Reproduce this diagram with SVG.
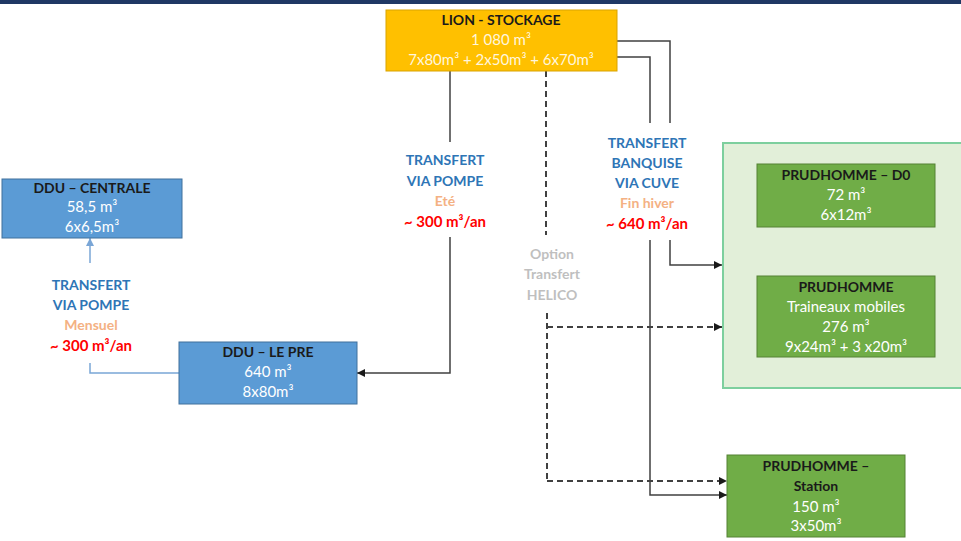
<svg xmlns="http://www.w3.org/2000/svg" width="961" height="541" viewBox="0 0 961 541">
<defs>
<style>
text{font-family:Lato,"Open Sans","Liberation Sans",sans-serif;text-anchor:middle;font-size:15px}
.t{font-weight:bold;fill:#1a1a1a;font-size:14px}
.v{fill:#ffffff}
.vy{fill:#fff6dd}
.b{font-weight:bold;fill:#2e75b6;font-size:14px}
.o{font-weight:bold;fill:#f4b183;font-size:14px}
.r{font-weight:bold;fill:#ff0000;font-size:15px}
.g{font-weight:bold;fill:#bfbfbf;font-size:14px}
.ln{fill:none;stroke:#404040;stroke-width:1.5}
.dl{fill:none;stroke:#404040;stroke-width:2;stroke-dasharray:6 4}
.bl{fill:none;stroke:#7aa6d6;stroke-width:1.5}
</style>
<marker id="ah" viewBox="0 0 10 10" refX="10" refY="5" markerWidth="8" markerHeight="8" markerUnits="userSpaceOnUse" orient="auto"><path d="M0,0 L10,5 L0,10 z" fill="#1a1a1a"/></marker>
<marker id="ahb" viewBox="0 0 10 10" refX="10" refY="5" markerWidth="8" markerHeight="8" markerUnits="userSpaceOnUse" orient="auto"><path d="M0,0 L10,5 L0,10 z" fill="#7aa6d6"/></marker>
</defs>
<rect x="0" y="0" width="961" height="541" fill="#ffffff"/>
<rect x="0" y="0" width="961" height="4" fill="#1f3864"/>

<g id="connectors">
<path class="ln" d="M450,71 V142"/>
<path class="ln" d="M450,237 V373 H357" marker-end="url(#ah)"/>
<path class="dl" d="M546,71 V235"/>
<path class="dl" d="M547,313 V481"/>
<path class="dl" d="M547,327 H722" marker-end="url(#ah)"/>
<path class="dl" d="M547,481 H727" marker-end="url(#ah)"/>
<path class="ln" d="M617,41 H670 V123"/>
<path class="ln" d="M617,57 H650 V123"/>
<path class="ln" d="M670,240 V265 H722" marker-end="url(#ah)"/>
<path class="ln" d="M650,240 V495 H727" marker-end="url(#ah)"/>
<path class="bl" d="M179,373 H90 V363"/>
<path class="bl" d="M90,263 V238" marker-end="url(#ahb)"/>
</g>

<g id="prudhomme-group">
<rect x="723" y="143" width="240" height="245" fill="#e2efd9" stroke="#7dcf9e" stroke-width="2"/>
</g>

<g id="lion">
<rect x="386" y="10" width="231" height="61" fill="#ffc000" stroke="#d9a300" stroke-width="1"/>
<text class="t" x="501" y="25">LION - STOCKAGE</text>
<text class="vy" x="501" y="45">1 080 m³</text>
<text class="vy" x="501" y="65">7x80m³ + 2x50m³ + 6x70m³</text>
</g>

<g id="ddu-centrale">
<rect x="2" y="179" width="180" height="59" fill="#5b9bd5" stroke="#41719c" stroke-width="1"/>
<text class="t" x="92" y="193">DDU – CENTRALE</text>
<text class="v" x="92" y="212">58,5 m³</text>
<text class="v" x="92" y="232">6x6,5m³</text>
</g>

<g id="ddu-le-pre">
<rect x="179" y="342" width="178" height="62" fill="#5b9bd5" stroke="#41719c" stroke-width="1"/>
<text class="t" x="268" y="357">DDU – LE PRE</text>
<text class="v" x="268" y="377">640 m³</text>
<text class="v" x="268" y="397">8x80m³</text>
</g>

<g id="prudhomme-d0">
<rect x="757" y="164" width="178" height="63" fill="#70ad47" stroke="#548235" stroke-width="1"/>
<text class="t" x="846" y="180">PRUDHOMME – D0</text>
<text class="v" x="846" y="200">72 m³</text>
<text class="v" x="846" y="220">6x12m³</text>
</g>

<g id="prudhomme-traineaux">
<rect x="757" y="276" width="178" height="81" fill="#70ad47" stroke="#548235" stroke-width="1"/>
<text class="t" x="846" y="292">PRUDHOMME</text>
<text class="v" x="846" y="312">Traineaux mobiles</text>
<text class="v" x="846" y="332">276 m³</text>
<text class="v" x="846" y="352">9x24m³ + 3 x20m³</text>
</g>

<g id="prudhomme-station">
<rect x="727" y="455" width="178" height="82" fill="#70ad47" stroke="#548235" stroke-width="1"/>
<text class="t" x="816" y="471">PRUDHOMME –</text>
<text class="t" x="816" y="491">Station</text>
<text class="v" x="816" y="512">150 m³</text>
<text class="v" x="816" y="531">3x50m³</text>
</g>

<g id="labels">
<text class="b" x="91" y="290">TRANSFERT</text>
<text class="b" x="91" y="310">VIA POMPE</text>
<text class="o" x="91" y="330">Mensuel</text>
<text class="r" x="91" y="351">~ 300 m³/an</text>

<text class="b" x="445" y="165">TRANSFERT</text>
<text class="b" x="445" y="186">VIA POMPE</text>
<text class="o" x="445" y="206">Eté</text>
<text class="r" x="445" y="227">~ 300 m³/an</text>

<text class="b" x="647" y="148">TRANSFERT</text>
<text class="b" x="647" y="168">BANQUISE</text>
<text class="b" x="647" y="188">VIA CUVE</text>
<text class="o" x="647" y="208">Fin hiver</text>
<text class="r" x="647" y="229">~ 640 m³/an</text>

<text class="g" x="552" y="259">Option</text>
<text class="g" x="552" y="279">Transfert</text>
<text class="g" x="552" y="300">HELICO</text>
</g>
</svg>
